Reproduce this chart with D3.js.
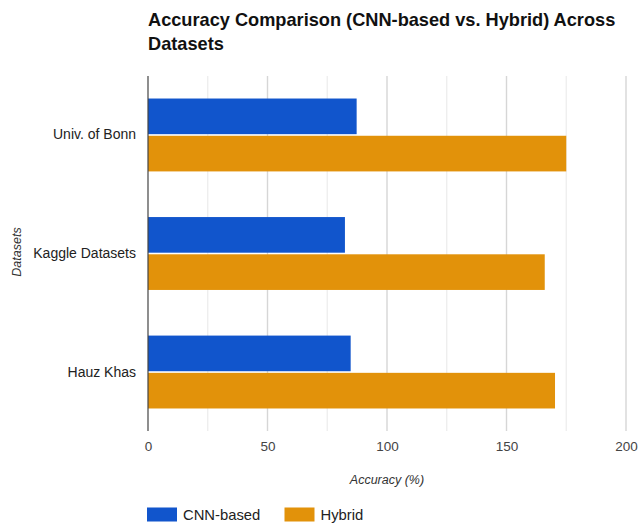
<!DOCTYPE html>
<html><head><meta charset="utf-8">
<script src="https://cdn.jsdelivr.net/npm/d3@7"></script>
<style>body{margin:0;background:#fff}svg{display:block}text{font-family:"Liberation Sans",Arial,sans-serif}</style>
</head><body><svg id="c" width="638" height="523"></svg>
<script>
const categories = ["Univ. of Bonn", "Kaggle Datasets", "Hauz Khas"];
const seriesNames = ["CNN-based", "Hybrid"];
const cnnValues = [87.3, 82.4, 84.8];
const hybridValues = [175.0, 166.0, 170.3];
const xTicks = [0, 50, 100, 150, 200];
const minorTicks = [25, 75, 125, 175];
const colors = ["#1155cc", "#e2920a"];

const svg = d3.select("#c");
const m = {left:148, right:12, top:76, bottom:92};
const W = 638, H = 523;
const x = d3.scaleLinear().domain([0,200]).range([m.left, W - m.right]);
const y = d3.scaleBand().domain(categories).range([m.top, H - m.bottom]).paddingInner(0.385).paddingOuter(0.19);
const ys = d3.scaleBand().domain(seriesNames).range([0, y.bandwidth()]);

// title
svg.append("text").attr("x",148).attr("y",26).attr("font-size",18.2).attr("font-weight","bold").attr("fill","#111")
  .text("Accuracy Comparison (CNN-based vs. Hybrid) Across");
svg.append("text").attr("x",148).attr("y",49.5).attr("font-size",18.2).attr("font-weight","bold").attr("fill","#111")
  .text("Datasets");

// gridlines
svg.append("g").selectAll("line").data(minorTicks).join("line")
  .attr("x1",d=>x(d)).attr("x2",d=>x(d)).attr("y1",m.top).attr("y2",H-m.bottom)
  .attr("stroke","#ececec").attr("stroke-width",1.2);
svg.append("g").selectAll("line").data(xTicks.slice(1)).join("line")
  .attr("x1",d=>x(d)).attr("x2",d=>x(d)).attr("y1",m.top).attr("y2",H-m.bottom)
  .attr("stroke","#d6d6d6").attr("stroke-width",1.4);

// bars
const data = categories.map((c,i)=>({c, vals:[cnnValues[i], hybridValues[i]]}));
const g = svg.append("g");
data.forEach(d=>{
  d.vals.forEach((v,j)=>{
    g.append("rect").attr("x",x(0)).attr("y",y(d.c)+ys(seriesNames[j]) + (j===1?0.8:0))
      .attr("width",x(v)-x(0)).attr("height",ys.bandwidth()-0.8)
      .attr("fill",colors[j]);
  });
});

// zero axis line
svg.append("line").attr("x1",x(0)).attr("x2",x(0)).attr("y1",m.top).attr("y2",H-m.bottom)
  .attr("stroke","#444").attr("stroke-width",1.2);

// x axis
const xa = svg.append("g").attr("transform",`translate(0,${H-m.bottom})`)
  .call(d3.axisBottom(x).tickValues(xTicks).tickSize(0).tickPadding(10));
xa.select(".domain").remove();
xa.selectAll("text").attr("font-size",13.5).attr("fill","#444").attr("font-family","Liberation Sans, Arial, sans-serif");

// y axis
const ya = svg.append("g").attr("transform",`translate(${m.left},0)`)
  .call(d3.axisLeft(y).tickSize(0).tickPadding(12));
ya.select(".domain").remove();
ya.selectAll("text").attr("font-size",14).attr("fill","#222").attr("font-family","Liberation Sans, Arial, sans-serif");

// axis titles
svg.append("text").attr("x",(x(0)+x(200))/2).attr("y",484).attr("text-anchor","middle")
  .attr("font-size",12.5).attr("font-style","italic").attr("fill","#333").text("Accuracy (%)");
svg.append("text").attr("transform","translate(21,252) rotate(-90)").attr("text-anchor","middle")
  .attr("font-size",12.5).attr("font-style","italic").attr("fill","#333").text("Datasets");

// legend
const legX = [147, 284.5];
seriesNames.forEach((s,i)=>{
  svg.append("rect").attr("x",legX[i]).attr("y",507.5).attr("width",30).attr("height",14).attr("fill",colors[i]);
  svg.append("text").attr("x",legX[i]+36).attr("y",519.5).attr("font-size",14.8).attr("fill","#222").text(s);
});
</script></body></html>
